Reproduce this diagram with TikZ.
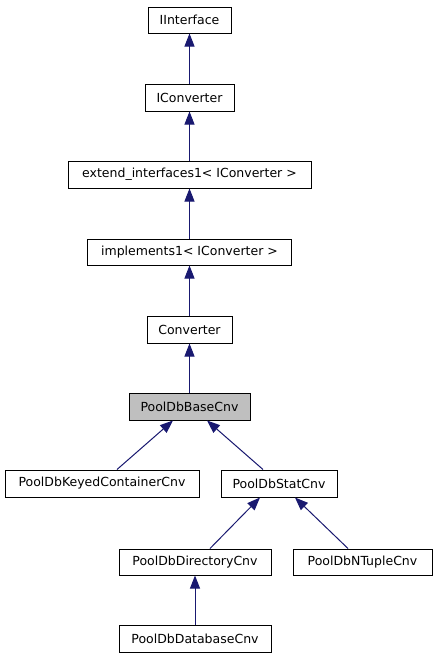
\documentclass[tikz,border=0pt]{standalone}
\usepackage{fontspec}
\setmainfont{DejaVu Sans}
\usetikzlibrary{arrows.meta}
\definecolor{midnightblue}{RGB}{25,25,112}
\definecolor{basegray}{RGB}{191,191,191}

\begin{document}
\begin{tikzpicture}[x=1pt, y=-1pt,
  cls/.style={draw=black, line width=1pt, inner sep=0pt, font=\fontsize{12.5}{14}\selectfont},
  inh/.style={draw=midnightblue, line width=1pt, -{Triangle[length=13pt, width=10pt, fill=midnightblue]}}]

\useasboundingbox (0,0) rectangle (437,659);

\node[cls, minimum width=83pt, minimum height=26pt] (iinterface) at (189.5,20) {IInterface};
\node[cls, minimum width=89pt, minimum height=27pt] (iconverter) at (189.5,97.5) {IConverter};
\node[cls, minimum width=243pt, minimum height=27pt] (extend) at (189.5,174.5) {extend\_interfaces1< IConverter >};
\node[cls, minimum width=204pt, minimum height=26pt] (implements) at (189.5,252) {implements1< IConverter >};
\node[cls, minimum width=85pt, minimum height=27pt] (converter) at (189.5,329.5) {Converter};
\node[cls, fill=basegray, minimum width=121pt, minimum height=27pt] (basecnv) at (189.5,406.5) {PoolDbBaseCnv};

\node[cls, minimum width=194pt, minimum height=27pt] (keyedcnv) at (102,483.5) {PoolDbKeyedContainerCnv};
\node[cls, minimum width=116pt, minimum height=27pt] (statcnv) at (279,483.5) {PoolDbStatCnv};

\node[cls, minimum width=152pt, minimum height=26pt] (dircnv) at (195,562) {PoolDbDirectoryCnv};
\node[cls, minimum width=139pt, minimum height=26pt] (ntuplecnv) at (362.5,562) {PoolDbNTupleCnv};
\node[cls, minimum width=152pt, minimum height=27pt] (dbcnv) at (195,638.5) {PoolDbDatabaseCnv};

% inheritance arrows
\draw[inh] (iconverter.north) -- (iinterface.south);
\draw[inh] (extend.north) -- (iconverter.south);
\draw[inh] (implements.north) -- (extend.south);
\draw[inh] (converter.north) -- (implements.south);
\draw[inh] (basecnv.north) -- (converter.south);
\draw[inh] ([xshift=15pt]keyedcnv.north) -- ([xshift=-16.5pt]basecnv.south);
\draw[inh] ([xshift=-16pt]statcnv.north) -- ([xshift=17.5pt]basecnv.south);
\draw[inh] ([xshift=15pt]dircnv.north) -- ([xshift=-19pt]statcnv.south);
\draw[inh] ([xshift=-14.5pt]ntuplecnv.north) -- ([xshift=16pt]statcnv.south);
\draw[inh] (dbcnv.north) -- (dircnv.south);
\end{tikzpicture}
\end{document}
